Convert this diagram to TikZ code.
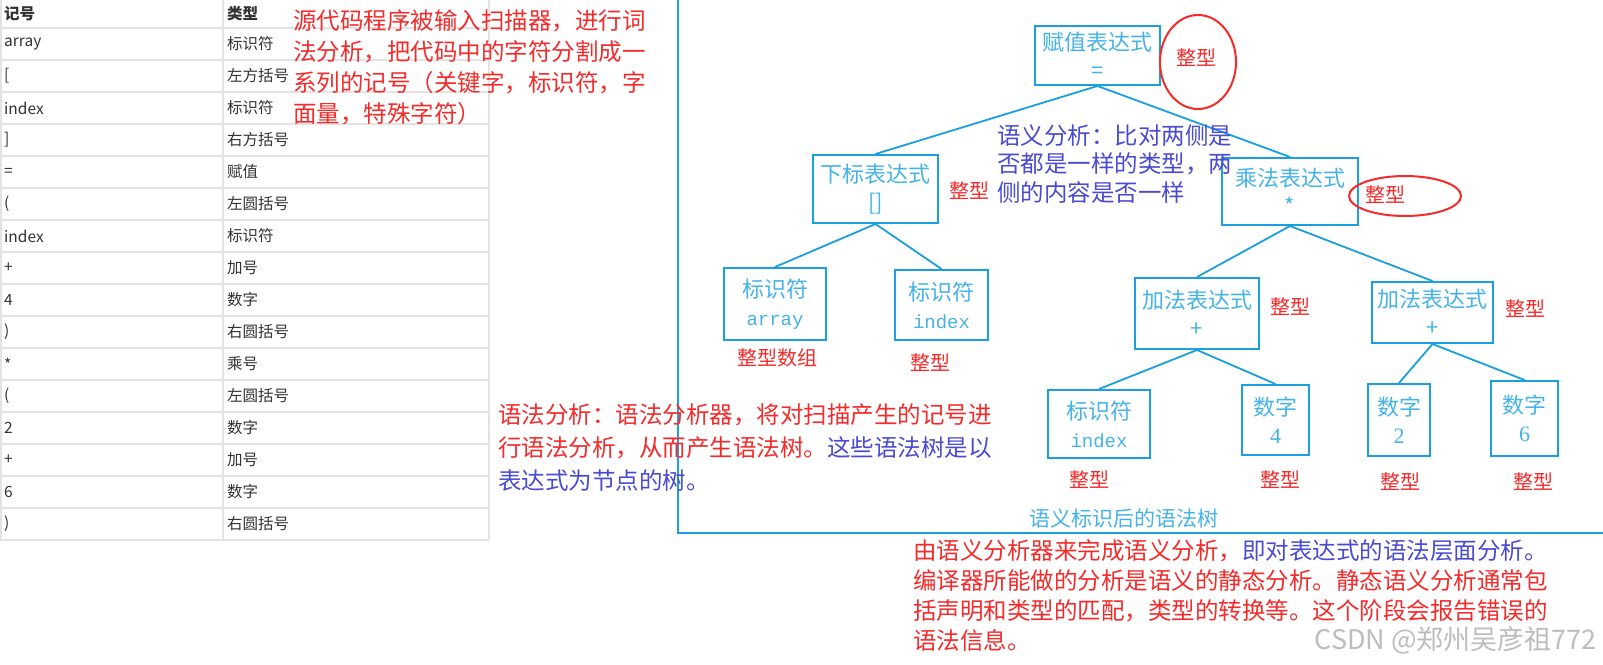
\documentclass[tikz,border=0pt]{standalone}
\usepackage{fontspec}
\usetikzlibrary{shapes.geometric}
\setmainfont{Noto Sans CJK SC}
\newfontfamily\codefont{Liberation Mono}
\newfontfamily\numfont{Liberation Serif}
\definecolor{TreeBlue}{HTML}{1A9FE0}
\definecolor{LeafText}{HTML}{45B3E8}
\definecolor{NoteRed}{HTML}{F52A2A}
\definecolor{NoteBlue}{HTML}{4A4AD2}
\definecolor{TableInk}{HTML}{333333}
\definecolor{TableRule}{HTML}{E3E3E3}
\definecolor{MarkGray}{HTML}{BDBDBD}

\begin{document}
\begin{tikzpicture}[x=1pt,y=-1pt,
    treebox/.style={draw=TreeBlue,line width=2pt,align=center,text=LeafText,
      inner sep=0pt,font=\fontsize{22}{28}\selectfont},
    edge/.style={TreeBlue,line width=1.8pt},
    typelbl/.style={text=NoteRed,inner sep=0pt,font=\fontsize{20}{24}\selectfont},
    ring/.style={ellipse,draw=NoteRed,line width=2pt,inner sep=0pt},
    cell/.style={anchor=west,inner sep=0pt,text=TableInk,font=\fontsize{15.5}{18}\selectfont},
    note/.style={anchor=base west,align=left,inner sep=0pt}]
    \useasboundingbox[fill=white] (0,0) rectangle (1603,664);

    \foreach \k in {0,...,16} {
      \draw[TableRule,line width=1.5pt] (0,{28+32*\k}) -- (489,{28+32*\k});
    }
    \foreach \xx in {1,223,489} {
      \draw[TableRule,line width=1.5pt] (\xx,0) -- (\xx,540);
    }
    \node[cell,font=\fontsize{15.5}{18}\selectfont\bfseries] (symhead) at (4,14) {记号};
    \node[cell,font=\fontsize{15.5}{18}\selectfont\bfseries] (kindhead) at (227,14) {类型};
    \foreach \sym/\kind [count=\i] in {array/标识符,{[}/左方括号,index/标识符,{]}/右方括号,{=}/赋值,{(}/左圆括号,index/标识符,{+}/加号,4/数字,{)}/右圆括号,{*}/乘号,{(}/左圆括号,2/数字,{+}/加号,6/数字,{)}/右圆括号} {
      \node[cell] (sym\i) at (4,{12+32*\i}) {\sym};
      \node[cell] (kind\i) at (227,{12+32*\i}) {\kind};
    }

    \node[note,text=NoteRed,font=\fontsize{23.5}{31}\selectfont] (lexnote) at (293,122)
      {源代码程序被输入扫描器，进行词\\法分析，把代码中的字符分割成一\\系列的记号（关键字，标识符，字\\面量，特殊字符）};

    \coordinate (ftop) at (678,0);
    \coordinate (fcorner) at (678,533);
    \coordinate (fend) at (1603,533);
    \draw[TreeBlue,line width=2pt] (ftop) -- (fcorner) -- (fend);

    \node[treebox,minimum width=125pt,minimum height=59pt] (assign) at (1097.5,55.5) {赋值表达式\\=};
    \node[treebox,minimum width=125pt,minimum height=68pt] (subscr) at (875.5,189) {下标表达式\\{[}{]}};
    \node[treebox,minimum width=136pt,minimum height=67pt] (mult) at (1290,191.5) {乘法表达式\\*};
    \node[treebox,minimum width=124pt,minimum height=71pt] (addl) at (1197,313.5) {加法表达式\\+};
    \node[treebox,minimum width=121pt,minimum height=61pt] (addr) at (1432.5,312.5) {加法表达式\\+};
    \node[treebox,minimum width=102pt,minimum height=72pt] (idarr) at (775,304) {标识符\\{\codefont\fontsize{19}{28}\selectfont array}};
    \node[treebox,minimum width=93pt,minimum height=70pt] (idind) at (941.5,305) {标识符\\{\codefont\fontsize{19}{28}\selectfont index}};
    \node[treebox,minimum width=102pt,minimum height=68pt] (idind2) at (1099,424) {标识符\\{\codefont\fontsize{19}{28}\selectfont index}};
    \node[treebox,minimum width=67pt,minimum height=70pt] (num4) at (1275.5,420) {数字\\{\numfont 4}};
    \node[treebox,minimum width=62pt,minimum height=72pt] (num2) at (1399,420) {数字\\{\numfont 2}};
    \node[treebox,minimum width=67pt,minimum height=75pt] (num6) at (1524.5,418.5) {数字\\{\numfont 6}};

    \draw[edge] (assign.south) -- (subscr.north);
    \draw[edge] (assign.south) -- (mult.north);
    \draw[edge] (subscr.south) -- (idarr.north);
    \draw[edge] (subscr.south) -- (idind.north);
    \draw[edge] (mult.south) -- (addl.north);
    \draw[edge] (mult.south) -- (addr.north);
    \draw[edge] (addl.south) -- (idind2.north);
    \draw[edge] (addl.south) -- (num4.north);
    \draw[edge] (addr.south) -- (num2.north);
    \draw[edge] (addr.south) -- (num6.north);

    \node[typelbl] (tassign) at (1196,58) {整型};
    \node[ring,minimum width=76pt,minimum height=94pt] (rassign) at (1198,62) {};
    \node[typelbl] (tsubscr) at (969,191) {整型};
    \node[typelbl] (tmult) at (1385,195) {整型};
    \node[ring,minimum width=112pt,minimum height=40pt] (rmult) at (1405,196) {};
    \node[typelbl] (taddl) at (1290,307) {整型};
    \node[typelbl] (taddr) at (1525,309) {整型};
    \node[typelbl] (tidarr) at (777,358) {整型数组};
    \node[typelbl] (tidind) at (930,363) {整型};
    \node[typelbl] (tidind2) at (1089,480) {整型};
    \node[typelbl] (tnum4) at (1280,480) {整型};
    \node[typelbl] (tnum2) at (1400,482) {整型};
    \node[typelbl] (tnum6) at (1533,482) {整型};

    \node[note,text=NoteBlue,font=\fontsize{23.5}{28.5}\selectfont] (semnote) at (997,201)
      {语义分析：比对两侧是\\否都是一样的类型，两\\侧的内容是否一样};
    \node[text=LeafText,inner sep=0pt,font=\fontsize{21}{24}\selectfont] (caption) at (1124,518)
      {语义标识后的语法树};

    \node[note,text=NoteRed,font=\fontsize{23.5}{33}\selectfont] (synnote) at (498,489)
      {语法分析：语法分析器，将对扫描产生的记号进\\行语法分析，从而产生语法树。\textcolor{NoteBlue}{这些语法树是以}\\\textcolor{NoteBlue}{表达式为节点的树。}};
    \node[note,text=NoteRed,font=\fontsize{23.5}{30}\selectfont] (semtext) at (913,649)
      {由语义分析器来完成语义分析，\textcolor{NoteBlue}{即对表达式的语法层面分析。}\\编译器所能做的分析是语义的静态分析。静态语义分析通常包\\括声明和类型的匹配，类型的转换等。这个阶段会报告错误的\\语法信息。};

    \node[anchor=east,inner sep=0pt,text=MarkGray,font=\fontsize{27}{30}\selectfont] (mark) at (1597,640)
      {CSDN @郑州吴彦祖772};
  \end{tikzpicture}
\end{document}
